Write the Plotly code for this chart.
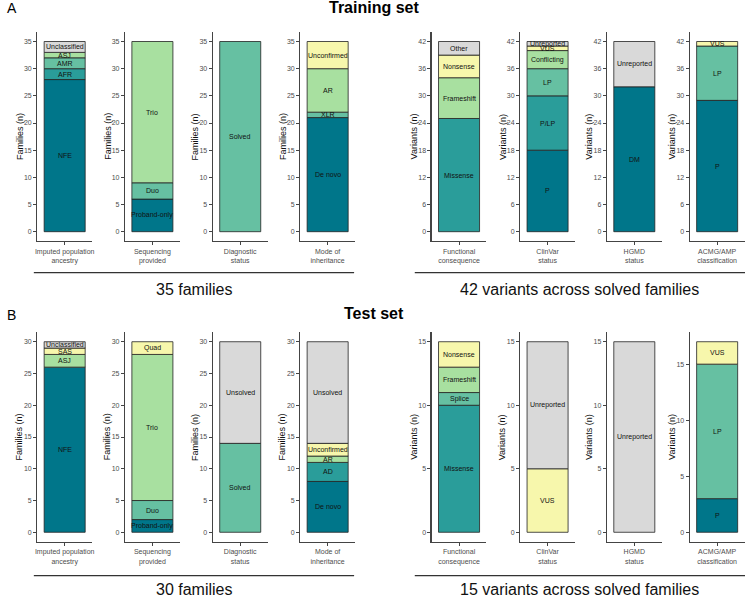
import plotly.graph_objects as go

# ---------------- data ----------------
train_anc_labels = ["NFE", "AFR", "AMR", "ASJ", "Unclassified"]
train_anc_vals = [28, 2, 2, 1, 2]
train_seq_labels = ["Proband-only", "Duo", "Trio"]
train_seq_vals = [6, 3, 26]
train_diag_labels = ["Solved"]
train_diag_vals = [35]
train_moi_labels = ["De novo", "XLR", "AR", "Unconfirmed"]
train_moi_vals = [21, 1, 8, 5]
train_func_labels = ["Missense", "Frameshift", "Nonsense", "Other"]
train_func_vals = [25, 9, 5, 3]
train_clinvar_labels = ["P", "P/LP", "LP", "Conflicting", "VUS", "Unreported"]
train_clinvar_vals = [18, 12, 6, 4, 1, 1]
train_hgmd_labels = ["DM", "Unreported"]
train_hgmd_vals = [32, 10]
train_acmg_labels = ["P", "LP", "VUS"]
train_acmg_vals = [29, 12, 1]

test_anc_labels = ["NFE", "ASJ", "SAS", "Unclassified"]
test_anc_vals = [26, 2, 1, 1]
test_seq_labels = ["Proband-only", "Duo", "Trio", "Quad"]
test_seq_vals = [2, 3, 23, 2]
test_diag_labels = ["Solved", "Unsolved"]
test_diag_vals = [14, 16]
test_moi_labels = ["De novo", "AD", "AR", "Unconfirmed", "Unsolved"]
test_moi_vals = [8, 3, 1, 2, 16]
test_func_labels = ["Missense", "Splice", "Frameshift", "Nonsense"]
test_func_vals = [10, 1, 2, 2]
test_clinvar_labels = ["VUS", "Unreported"]
test_clinvar_vals = [5, 10]
test_hgmd_labels = ["Unreported"]
test_hgmd_vals = [15]
test_acmg_labels = ["P", "LP", "VUS"]
test_acmg_vals = [3, 12, 2]

x_tick_labels = ["Imputed population<br>ancestry", "Sequencing<br>provided",
                 "Diagnostic<br>status", "Mode of<br>inheritance",
                 "Functional<br>consequence", "ClinVar<br>status",
                 "HGMD<br>status", "ACMG/AMP<br>classification"]
y_titles = ["Families (n)"] * 4 + ["Variants (n)"] * 4
group_titles = ["35 families", "42 variants across solved families",
                "30 families", "15 variants across solved families"]

# ---------------- styles ----------------
DT, MT, GR, LG, YE, GY = "#00768a", "#2a9d9a", "#66c0a2", "#a8e0a0", "#f7f7ac", "#d9d9d9"
palette = {
    "anc": {"NFE": DT, "AFR": MT, "AMR": GR, "ASJ": LG, "SAS": YE, "Unclassified": GY},
    "seq": {"Proband-only": DT, "Duo": GR, "Trio": LG, "Quad": YE},
    "diag": {"Solved": GR, "Unsolved": GY},
    "moi": {"De novo": DT, "AD": MT, "XLR": GR, "AR": LG, "Unconfirmed": YE, "Unsolved": GY},
    "func": {"Missense": MT, "Splice": GR, "Frameshift": LG, "Nonsense": YE, "Other": GY},
    "clinvar": {"P": DT, "P/LP": MT, "LP": GR, "Conflicting": LG, "VUS": YE, "Unreported": GY},
    "hgmd": {"DM": DT, "Unreported": GY},
    "acmg": {"P": DT, "LP": GR, "VUS": YE},
}
kinds = ["anc", "seq", "diag", "moi", "func", "clinvar", "hgmd", "acmg"]

panels = [
    (train_anc_labels, train_anc_vals), (train_seq_labels, train_seq_vals),
    (train_diag_labels, train_diag_vals), (train_moi_labels, train_moi_vals),
    (train_func_labels, train_func_vals), (train_clinvar_labels, train_clinvar_vals),
    (train_hgmd_labels, train_hgmd_vals), (train_acmg_labels, train_acmg_vals),
    (test_anc_labels, test_anc_vals), (test_seq_labels, test_seq_vals),
    (test_diag_labels, test_diag_vals), (test_moi_labels, test_moi_vals),
    (test_func_labels, test_func_vals), (test_clinvar_labels, test_clinvar_vals),
    (test_hgmd_labels, test_hgmd_vals), (test_acmg_labels, test_acmg_vals),
]
dticks = [5, 5, 5, 5, 6, 6, 6, 6, 5, 5, 5, 5, 5, 5, 5, 5]

W, H = 747, 598
centers = [63, 151.2, 239.5, 327.4, 459.5, 548.5, 635.7, 719]
half_w = 27.5
rows = [(32.0, 241.2), (332.2, 541.8)]

def px(x):
    return x / W

def py(y):
    return 1 - y / H

FONT = "Liberation Sans, Arial, sans-serif"
fig = go.Figure()
annotations = []
layout_axes = {}

for i, (labels, vals) in enumerate(panels):
    n = i + 1
    col = i % 8
    row = i // 8
    kind = kinds[col]
    xa = "x" if n == 1 else f"x{n}"
    ya = "y" if n == 1 else f"y{n}"
    total = sum(vals)
    base = 0
    for lab, v in zip(labels, vals):
        fig.add_trace(go.Bar(
            x=[1], y=[v], base=[base], width=0.9, xaxis=xa, yaxis=ya,
            marker=dict(color=palette[kind][lab], line=dict(color="#222222", width=0.8)),
            showlegend=False, hoverinfo="skip", name=lab,
        ))
        annotations.append(dict(
            x=1, y=base + v / 2, xref=xa, yref=ya, text=lab, showarrow=False,
            font=dict(family=FONT, size=7, color="#111111"),
            xanchor="center", yanchor="middle",
        ))
        base += v
    c = centers[col]
    top, bot = rows[row]
    xkey = "xaxis" if n == 1 else f"xaxis{n}"
    ykey = "yaxis" if n == 1 else f"yaxis{n}"
    layout_axes[xkey] = dict(
        domain=[px(c - half_w), px(c + half_w)], anchor=ya, range=[0.4, 1.6],
        tickvals=[1], ticktext=[x_tick_labels[col]], ticks="outside", ticklen=3,
        tickcolor="#444444", showline=True, linecolor="#444444", linewidth=1.2,
        showgrid=False, zeroline=False, fixedrange=True,
        tickfont=dict(family=FONT, size=7, color="#4d4d4d"),
    )
    layout_axes[ykey] = dict(
        domain=[py(bot), py(top)], anchor=xa,
        range=[-0.05 * total, 1.05 * total], dtick=dticks[i], tick0=0,
        ticks="outside", ticklen=3, tickcolor="#444444", showline=True,
        linecolor="#444444", linewidth=1.2, showgrid=False, zeroline=False,
        tickfont=dict(family=FONT, size=7, color="#4d4d4d"),
    )
    annotations.append(dict(
        x=px(c - half_w - 18), y=py((top + bot) / 2), xref="paper", yref="paper",
        text=y_titles[col], textangle=-90, showarrow=False,
        font=dict(family=FONT, size=9, color="#111111"),
        xanchor="center", yanchor="middle",
    ))

# group separator lines and labels
shapes = []
line_specs = [(32, 354, 272.7), (415, 747, 272.7), (32, 354, 575.7), (415, 747, 575.7)]
label_pos = [(193, 289), (581, 289), (193, 589.5), (581, 589.5)]
for (x0, x1, yl), (lx, ly), txt in zip(line_specs, label_pos, group_titles):
    shapes.append(dict(type="line", xref="paper", yref="paper",
                       x0=px(x0), x1=px(x1), y0=py(yl), y1=py(yl),
                       line=dict(color="#333333", width=1.2)))
    annotations.append(dict(x=px(lx), y=py(ly), xref="paper", yref="paper", text=txt,
                            showarrow=False, font=dict(family=FONT, size=16, color="#111111"),
                            xanchor="center", yanchor="middle"))

for txt, yc in [("<b>Training set</b>", 7.5), ("<b>Test set</b>", 313)]:
    annotations.append(dict(x=0.5, y=py(yc), xref="paper", yref="paper", text=txt,
                            showarrow=False, font=dict(family=FONT, size=16, color="#000000"),
                            xanchor="center", yanchor="middle"))
for txt, yc in [("A", 7.5), ("B", 315)]:
    annotations.append(dict(x=px(3), y=py(yc), xref="paper", yref="paper", text=txt,
                            showarrow=False, font=dict(family=FONT, size=14, color="#000000"),
                            xanchor="left", yanchor="middle"))

fig.update_layout(
    width=W, height=H, autosize=False,
    margin=dict(l=0, r=0, t=0, b=0),
    paper_bgcolor="white", plot_bgcolor="white",
    barmode="overlay", annotations=annotations, shapes=shapes,
    font=dict(family=FONT),
    **layout_axes,
)
fig.write_html("out.html", config={"displayModeBar": False, "staticPlot": True},
               post_script="document.body.style.margin='0px';document.body.style.overflow='hidden';")
